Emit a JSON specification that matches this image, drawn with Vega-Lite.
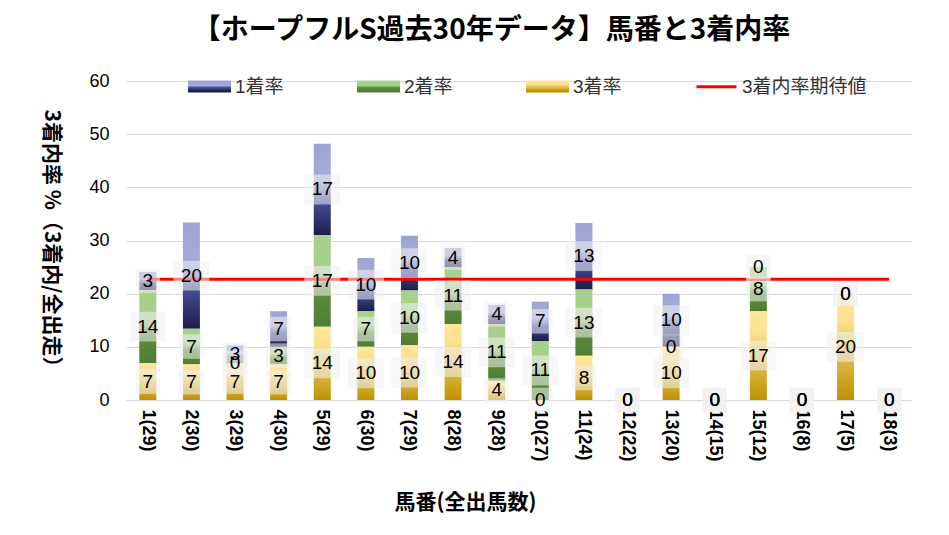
{
  "$schema": "https://vega.github.io/schema/vega-lite/v6.json",
  "width": 785,
  "height": 319,
  "autosize": {"type": "none"},
  "padding": {"left": 126, "top": 81, "right": 38, "bottom": 135},
  "background": "white",
  "config": {"view": {"stroke": null}},
  "title": {
    "text": "【ホープフルS過去30年データ】馬番と3着内率",
    "font": "Noto Sans CJK JP",
    "fontSize": 28,
    "fontWeight": "bold",
    "color": "#000000",
    "anchor": "middle",
    "frame": "group",
    "dx": -27,
    "offset": 20
  },
  "datasets": {
    "main": [
      {"cat": "1(29)", "series": "1着率", "v": 3.4},
      {"cat": "1(29)", "series": "2着率", "v": 13.8},
      {"cat": "1(29)", "series": "3着率", "v": 6.9},
      {"cat": "2(30)", "series": "1着率", "v": 20.0},
      {"cat": "2(30)", "series": "2着率", "v": 6.7},
      {"cat": "2(30)", "series": "3着率", "v": 6.7},
      {"cat": "3(29)", "series": "1着率", "v": 3.4},
      {"cat": "3(29)", "series": "2着率", "v": 0},
      {"cat": "3(29)", "series": "3着率", "v": 6.9},
      {"cat": "4(30)", "series": "1着率", "v": 6.7},
      {"cat": "4(30)", "series": "2着率", "v": 3.3},
      {"cat": "4(30)", "series": "3着率", "v": 6.7},
      {"cat": "5(29)", "series": "1着率", "v": 17.2},
      {"cat": "5(29)", "series": "2着率", "v": 17.2},
      {"cat": "5(29)", "series": "3着率", "v": 13.8},
      {"cat": "6(30)", "series": "1着率", "v": 10.0},
      {"cat": "6(30)", "series": "2着率", "v": 6.7},
      {"cat": "6(30)", "series": "3着率", "v": 10.0},
      {"cat": "7(29)", "series": "1着率", "v": 10.3},
      {"cat": "7(29)", "series": "2着率", "v": 10.3},
      {"cat": "7(29)", "series": "3着率", "v": 10.3},
      {"cat": "8(28)", "series": "1着率", "v": 3.6},
      {"cat": "8(28)", "series": "2着率", "v": 10.7},
      {"cat": "8(28)", "series": "3着率", "v": 14.3},
      {"cat": "9(28)", "series": "1着率", "v": 3.6},
      {"cat": "9(28)", "series": "2着率", "v": 10.7},
      {"cat": "9(28)", "series": "3着率", "v": 3.6},
      {"cat": "10(27)", "series": "1着率", "v": 7.4},
      {"cat": "10(27)", "series": "2着率", "v": 11.1},
      {"cat": "10(27)", "series": "3着率", "v": 0},
      {"cat": "11(24)", "series": "1着率", "v": 12.5},
      {"cat": "11(24)", "series": "2着率", "v": 12.5},
      {"cat": "11(24)", "series": "3着率", "v": 8.3},
      {"cat": "12(22)", "series": "1着率", "v": 0},
      {"cat": "12(22)", "series": "2着率", "v": 0},
      {"cat": "12(22)", "series": "3着率", "v": 0},
      {"cat": "13(20)", "series": "1着率", "v": 10.0},
      {"cat": "13(20)", "series": "2着率", "v": 0},
      {"cat": "13(20)", "series": "3着率", "v": 10.0},
      {"cat": "14(15)", "series": "1着率", "v": 0},
      {"cat": "14(15)", "series": "2着率", "v": 0},
      {"cat": "14(15)", "series": "3着率", "v": 0},
      {"cat": "15(12)", "series": "1着率", "v": 0},
      {"cat": "15(12)", "series": "2着率", "v": 8.3},
      {"cat": "15(12)", "series": "3着率", "v": 16.7},
      {"cat": "16(8)", "series": "1着率", "v": 0},
      {"cat": "16(8)", "series": "2着率", "v": 0},
      {"cat": "16(8)", "series": "3着率", "v": 0},
      {"cat": "17(5)", "series": "1着率", "v": 0},
      {"cat": "17(5)", "series": "2着率", "v": 0},
      {"cat": "17(5)", "series": "3着率", "v": 20.0},
      {"cat": "18(3)", "series": "1着率", "v": 0},
      {"cat": "18(3)", "series": "2着率", "v": 0},
      {"cat": "18(3)", "series": "3着率", "v": 0}
    ]
  },
  "data": {"name": "main"},
  "encoding": {
    "x": {
      "field": "cat",
      "type": "nominal",
      "sort": null,
      "scale": {"paddingInner": 0, "paddingOuter": 0},
      "axis": {
        "title": "馬番(全出馬数)",
        "titleFont": "Noto Sans CJK JP",
        "titleFontSize": 21,
        "titleFontWeight": "bold",
        "titleColor": "#000000",
        "titleX": 339,
        "titleY": 102,
        "titleAlign": "center",
        "titleBaseline": "middle",
        "labelAngle": 90,
        "labelAlign": "left",
        "labelBaseline": "middle",
        "labelFont": "Liberation Sans",
        "labelFontSize": 18,
        "labelFontWeight": "bold",
        "labelColor": "#000000",
        "labelPadding": 9,
        "ticks": false,
        "domain": true,
        "domainColor": "#d9d9d9",
        "grid": false
      }
    }
  },
  "layer": [
    {
      "mark": {"type": "bar", "width": 17},
      "encoding": {
        "y": {
          "field": "v",
          "type": "quantitative",
          "stack": "zero",
          "scale": {"domain": [0, 60], "nice": false},
          "axis": {
            "values": [0, 10, 20, 30, 40, 50, 60],
            "title": "3着内率 %（3着内/全出走）",
            "titleFont": "Noto Sans CJK JP",
            "titleFontSize": 21,
            "titleFontWeight": "bold",
            "titleColor": "#000000",
            "titleAngle": 90,
            "titleX": -76,
            "titleY": 162,
            "titleAlign": "center",
            "titleBaseline": "middle",
            "labelFont": "Liberation Sans",
            "labelFontSize": 18,
            "labelColor": "#000000",
            "labelPadding": 17,
            "ticks": false,
            "domain": false,
            "gridColor": "#d9d9d9",
            "gridWidth": 1.2
          }
        },
        "color": {
          "field": "series",
          "type": "nominal",
          "scale": {
            "domain": ["1着率", "2着率", "3着率", "3着内率期待値"],
            "range": [
              {"expr": "{gradient:'linear',x1:0,y1:0,x2:0,y2:1,stops:[{offset:0,color:'#9fa3d3'},{offset:0.4,color:'#a7abd8'},{offset:0.6,color:'#4a529f'},{offset:1,color:'#1c1c4a'}]}"},
              {"expr": "{gradient:'linear',x1:0,y1:0,x2:0,y2:1,stops:[{offset:0,color:'#a8d08d'},{offset:0.4,color:'#a8d08d'},{offset:0.62,color:'#5e8c3f'},{offset:1,color:'#4f7d31'}]}"},
              {"expr": "{gradient:'linear',x1:0,y1:0,x2:0,y2:1,stops:[{offset:0,color:'#ffe699'},{offset:0.25,color:'#fbe08f'},{offset:1,color:'#bf9000'}]}"},
              "#ff0000"
            ]
          },
          "legend": {
            "title": null,
            "orient": "none",
            "legendX": 62,
            "legendY": -16,
            "direction": "horizontal",
            "columnPadding": 68,
            "symbolSize": 1600,
            "labelFont": "Liberation Sans, Noto Sans CJK JP",
            "labelFontSize": 19,
            "labelColor": "#333333",
            "labelOffset": 4,
            "encode": {
              "symbols": {
                "update": {
                  "shape": {"signal": "datum.value === '3着内率期待値' ? 'M-1,0H1' : 'M-1,-0.225H1V0.225H-1Z'"},
                  "stroke": {"signal": "datum.value === '3着内率期待値' ? '#ff0000' : 'transparent'"},
                  "strokeWidth": {"value": 3},
                  "opacity": {"value": 1}
                }
              }
            }
          }
        },
        "order": {"field": "series", "sort": "descending"}
      }
    },
    {
      "transform": [{"filter": "datum.series === '1着率'"}],
      "mark": {"type": "line", "strokeWidth": 3},
      "encoding": {
        "y": {"datum": 22.7, "type": "quantitative"},
        "color": {"datum": "3着内率期待値"}
      }
    },
    {
      "mark": {"type": "point", "filled": true, "fill": "#f0f0f0", "opacity": 0.55, "strokeWidth": 0},
      "encoding": {
        "y": {"field": "v", "type": "quantitative", "stack": "zero", "bandPosition": 0.5},
        "detail": {"field": "series"},
        "order": {"field": "series", "sort": "descending"},
        "shape": {
          "condition": {"test": "datum.v >= 9.5", "value": "M-1,-0.83H1V0.83H-1Z"},
          "value": "M-1,-1H1V1H-1Z"
        },
        "size": {
          "condition": {"test": "datum.v >= 9.5", "value": 1296},
          "value": 600
        }
      }
    },
    {
      "mark": {"type": "text", "font": "Liberation Sans", "fontSize": 19, "color": "#000000", "baseline": "middle", "align": "center"},
      "encoding": {
        "y": {"field": "v", "type": "quantitative", "stack": "zero", "bandPosition": 0.5},
        "detail": {"field": "series"},
        "order": {"field": "series", "sort": "descending"},
        "text": {"field": "v", "type": "quantitative", "format": ".0f"}
      }
    }
  ]
}
